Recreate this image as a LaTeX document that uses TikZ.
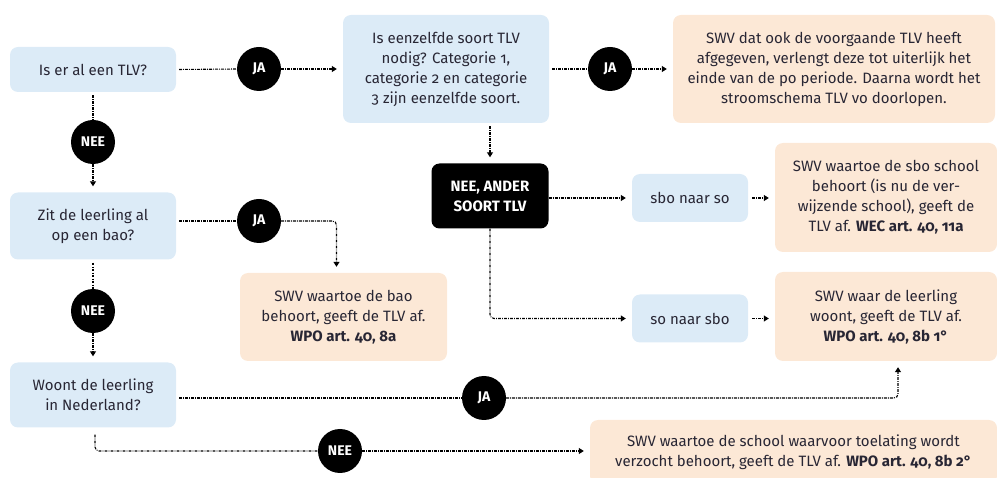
\documentclass[tikz,border=0pt]{standalone}
\usepackage{fontspec}
\setmainfont{Fira Sans}[Numbers=OldStyle]
\usepackage{xcolor}
\usetikzlibrary{arrows.meta,positioning,calc}
\definecolor{askblue}{RGB}{220,235,247}
\definecolor{answerpeach}{RGB}{252,232,214}
\definecolor{inktext}{RGB}{40,38,52}

\begin{document}
\begin{tikzpicture}[
    x=1pt, y=-1pt,
    >={Triangle[length=5pt,width=6pt]},
    askbox/.style={rounded corners=8pt, fill=askblue, text=inktext,
        inner sep=2pt, align=center, font=\fontsize{15}{20}\selectfont},
    ansbox/.style={rounded corners=8pt, fill=answerpeach, text=inktext,
        inner sep=2pt, align=center, font=\fontsize{15}{20}\selectfont},
    otherbox/.style={rounded corners=8pt, fill=black, text=white,
        inner sep=2pt, align=center, font=\fontsize{15}{20}\selectfont\bfseries},
    yesno/.style={circle, fill=black, text=white, minimum size=44pt,
        inner sep=0pt, font=\fontsize{14}{16}\selectfont\bfseries},
    flow/.style={line width=1.1pt, dash pattern=on 2.8pt off 1.2pt on 0.8pt off 1.2pt},
    flowarr/.style={flow, ->, shorten >=6pt},
]
\useasboundingbox (0,0) rectangle (997,478);
\clip (0,0) rectangle (997,478);

% === LEFT column: questions ===
\node[askbox, minimum width=166pt, minimum height=45pt] (tlv) at (93,69.5) {Is er al een TLV?};
\node[askbox, minimum width=166pt, minimum height=67pt] (bao) at (93,226) {Zit de leerling al\\ op een bao?};
\node[askbox, minimum width=166pt, minimum height=65pt] (nl) at (93,395) {Woont de leerling\\ in Nederland?};

% === TOP: same kind of TLV ===
\node[askbox, minimum width=206pt, minimum height=108pt] (same) at (446,69) {Is eenzelfde soort TLV\\ nodig? Categorie 1,\\ categorie 2 en categorie\\ 3 zijn eenzelfde soort.};
\node[ansbox, minimum width=322pt, minimum height=108pt] (extend) at (834,69) {SWV dat ook de voorgaande TLV heeft\\ afgegeven, verlengt deze tot uiterlijk het\\ einde van de po periode. Daarna wordt het\\ stroomschema TLV vo doorlopen.};

% === MIDDLE: other kind of TLV ===
\node[otherbox, minimum width=117pt, minimum height=65pt] (other) at (490,196) {NEE, ANDER\\ SOORT TLV};
\node[askbox, minimum width=116pt, minimum height=48pt] (sbotoso) at (690,198) {sbo naar so};
\node[askbox, minimum width=116pt, minimum height=48pt] (sotosbo) at (690,318.5) {so naar sbo};
\node[ansbox, minimum width=222pt, minimum height=109pt] (sboswv) at (886,197.5) {SWV waartoe de sbo school\\ behoort (is nu de ver-\\ wijzende school), geeft de\\ TLV af. \textbf{WEC art. 40, 11a}};
\node[ansbox, minimum width=222pt, minimum height=89pt] (liveswv) at (886,316.5) {SWV waar de leerling\\ woont, geeft de TLV af.\\ \textbf{WPO art. 40, 8b 1°}};

% === Answers for bao and Nederland ===
\node[ansbox, minimum width=207pt, minimum height=88pt] (baoswv) at (343.5,317) {SWV waartoe de bao\\ behoort, geeft de TLV af.\\ \textbf{WPO art. 40, 8a}};
\node[ansbox, minimum width=407pt, minimum height=64pt] (reqswv) at (793.5,452) {SWV waartoe de school waarvoor toelating wordt\\ verzocht behoort, geeft de TLV af. \textbf{WPO art. 40, 8b 2°}};

% === JA / NEE markers ===
\node[yesno] (ja1) at (259,69) {JA};
\node[yesno] (ja2) at (610,69) {JA};
\node[yesno] (ja3) at (259,221) {JA};
\node[yesno] (ja4) at (484,398) {JA};
\node[yesno] (nee1) at (93,142) {NEE};
\node[yesno] (nee2) at (93,311) {NEE};
\node[yesno] (nee3) at (340,451) {NEE};

% Connectors
\draw[flow, shorten <=3pt] (tlv.east) -- (ja1.west);
\draw[flowarr] (ja1.east) -- (same.west);
\draw[flow, shorten <=3pt] (same.east |- ja2) -- (ja2.west);
\draw[flowarr] (ja2.east) -- (extend.west |- ja2);
\draw[flow, shorten <=3pt] (tlv.south) -- (nee1.north);
\draw[flowarr] (nee1.south) -- (bao.north);
\draw[flow, shorten <=3pt] (bao.east |- ja3) -- (ja3.west);
\draw[flowarr, rounded corners=4pt] (ja3.east) -| ([xshift=-7pt]baoswv.north);
\draw[flow, shorten <=3pt] (bao.south) -- (nee2.north);
\draw[flowarr] (nee2.south) -- (nl.north);
\draw[flow, shorten <=3pt] (nl.east |- ja4) -- (ja4.west);
\draw[flowarr, rounded corners=4pt] (ja4.east) -| ([xshift=12pt]liveswv.south);
\draw[flow, shorten <=7pt, rounded corners=4pt] ([xshift=2pt]nl.south) |- (nee3.west);
\draw[flowarr] (nee3.east) -- (reqswv.west |- nee3);
\draw[flowarr, shorten <=3pt] (other.north |- same.south) -- (other.north);
\draw[flowarr] (other.east |- sbotoso) -- (sbotoso.west);
\draw[flowarr, rounded corners=4pt] (other.south) |- (sotosbo.west);
\draw[flowarr, shorten <=4pt] (sbotoso.east) -- (sboswv.west |- sbotoso);
\draw[flowarr, shorten <=4pt] (sotosbo.east) -- (liveswv.west |- sotosbo);

\end{tikzpicture}
\end{document}
